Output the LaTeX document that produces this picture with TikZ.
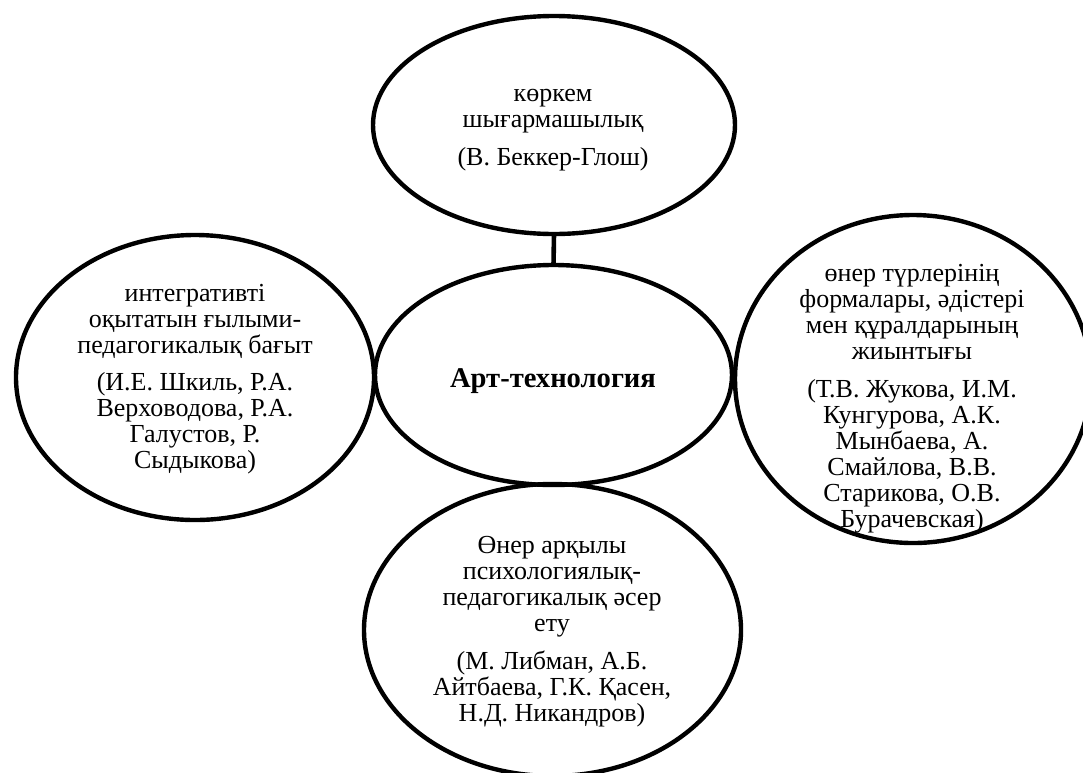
\documentclass[tikz,border=0pt]{standalone}
\usepackage{fontspec}
\setmainfont{Liberation Serif}
\usetikzlibrary{shapes.geometric}
\newcommand\sr{\rule{0pt}{18.2pt}}
\tikzset{
  oval/.style={draw, ellipse, line width=4.4pt, inner sep=0pt, outer sep=0pt},
  txt/.style={font=\fontsize{26}{26}\selectfont, align=center, inner sep=0pt, anchor=north},
  link/.style={line width=4.6pt}
}
\begin{document}
\begin{tikzpicture}[x=1pt,y=-1pt]
\useasboundingbox (0,0) rectangle (1083,772);
\clip (0,0) rectangle (1083,772);
% ellipses
\node[oval, minimum width=362pt, minimum height=218pt] (top) at (554,125) {};
\node[oval, minimum width=357pt, minimum height=220pt] (mid) at (553.5,375) {};
\node[oval, minimum width=358pt, minimum height=285pt] (lft) at (195,377.5) {};
\node[oval, minimum width=356pt, minimum height=328pt] (rgt) at (913,379) {};
\node[oval, minimum width=377pt, minimum height=292pt] (bot) at (552.5,630) {};
% connector
\draw[link] (top.south) -- (mid.north);
% texts
\node[txt] (ttop) at (553,83.5) {\sr көркем\\шығармашылық\\[12pt](В. Беккер-Глош)};
\node[font=\fontsize{28.6}{28.6}\selectfont\bfseries, inner sep=0pt, anchor=base] (tmid) at (553,387) {Арт-технология};
\node[txt] (tlft) at (195,283.5) {\sr интегративті\\оқытатын ғылыми-\\педагогикалық бағыт\\[11pt](И.Е. Шкиль, Р.А.\\Верховодова, Р.А.\\Галустов, Р.\\Сыдыкова)};
\node[txt] (trgt) at (912,263.5) {\sr өнер түрлерінің\\формалары, әдістері\\мен құралдарының\\жиынтығы\\[12pt](Т.В. Жукова, И.М.\\Кунгурова, А.К.\\Мынбаева, А.\\Смайлова, В.В.\\Старикова, О.В.\\Бурачевская)};
\node[txt] (tbot) at (552,534.8) {\sr Өнер арқылы\\психологиялық-\\педагогикалық әсер\\ету\\[12pt](М. Либман, А.Б.\\Айтбаева, Г.К. Қасен,\\Н.Д. Никандров)};
\end{tikzpicture}
\end{document}
